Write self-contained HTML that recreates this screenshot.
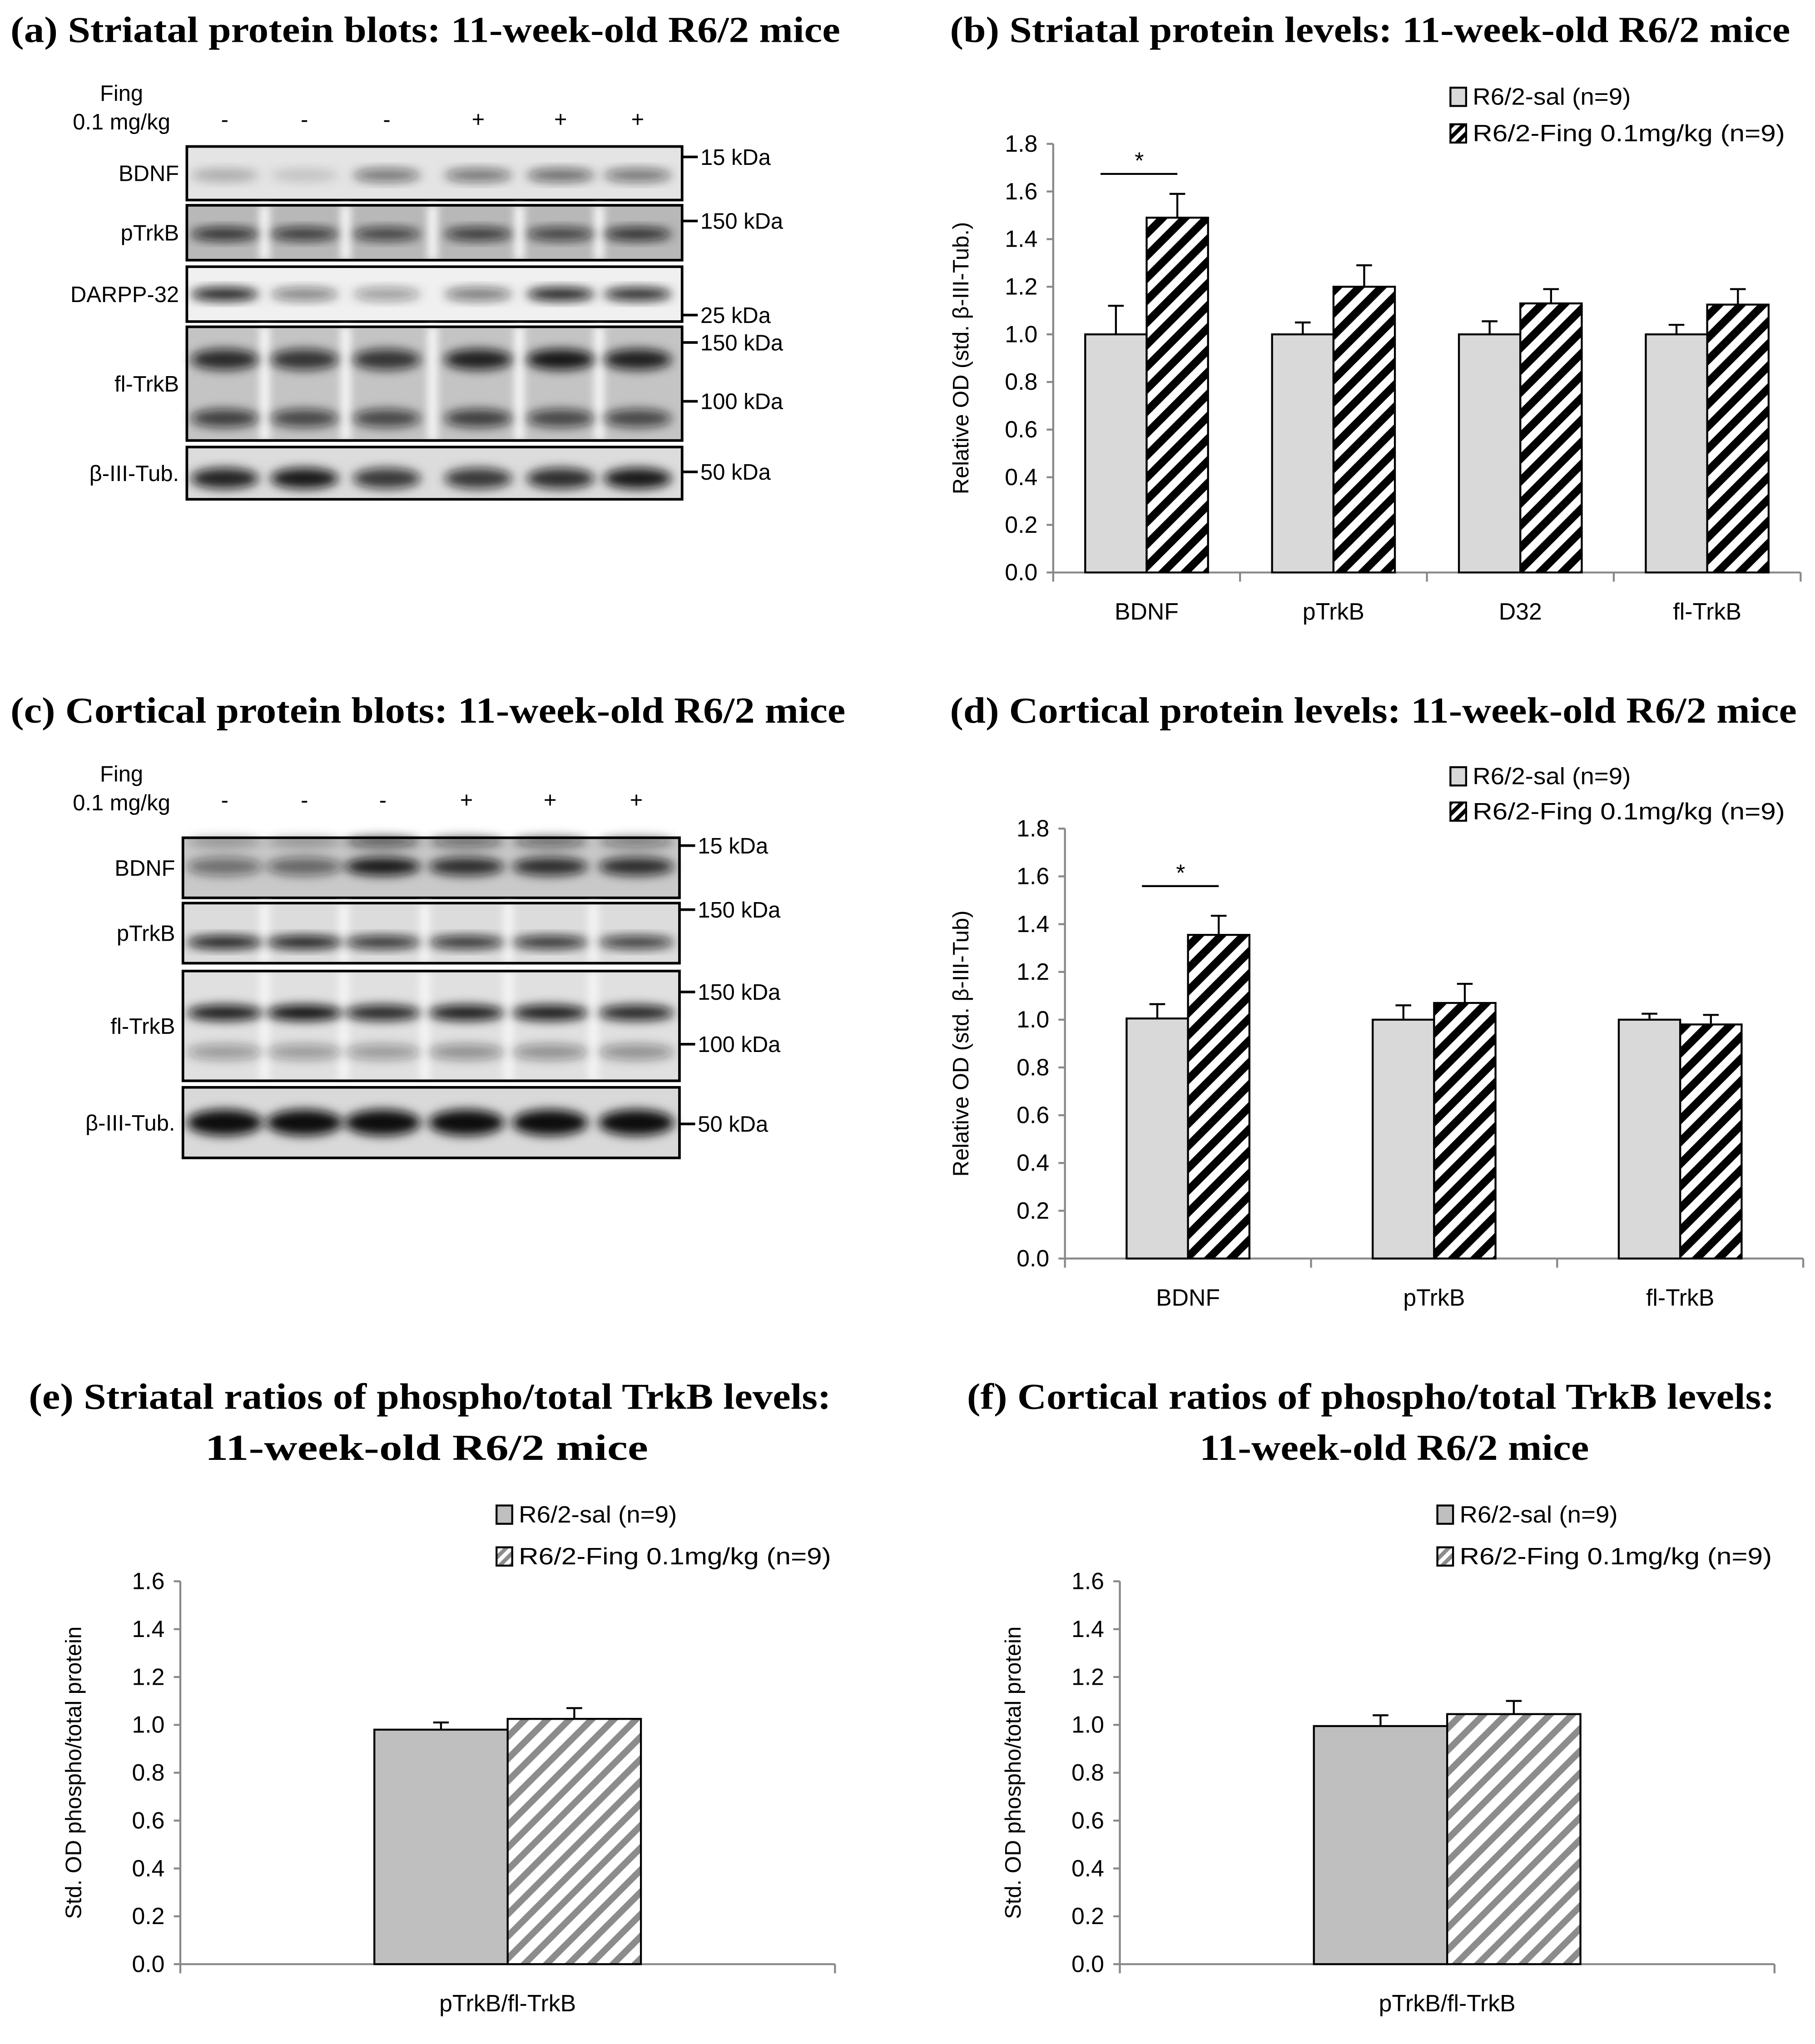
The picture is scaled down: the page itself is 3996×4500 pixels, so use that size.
<!DOCTYPE html>
<html><head><meta charset="utf-8">
<style>
html,body{margin:0;padding:0;background:#fff;}
svg{display:block;}
.t{font-family:"Liberation Serif",serif;font-weight:bold;font-size:28px;fill:#000;}
.s{font-family:"Liberation Sans",sans-serif;fill:#000;}
</style></head>
<body>
<svg id="fig" xmlns="http://www.w3.org/2000/svg" width="3996" height="4500" viewBox="0 0 1389 1564">
<defs>
<filter id="blur" x="-20%" y="-50%" width="140%" height="200%"><feGaussianBlur stdDeviation="4"/></filter>
<filter id="blur2" x="-50%" y="-10%" width="200%" height="120%"><feGaussianBlur stdDeviation="3"/></filter>
<pattern id="hatchBW" patternUnits="userSpaceOnUse" width="12" height="12" patternTransform="rotate(45)">
<rect width="12" height="12" fill="#fff"/><rect width="6" height="12" fill="#000"/></pattern>
<pattern id="hatchGray" patternUnits="userSpaceOnUse" width="12" height="12" patternTransform="rotate(45)">
<rect width="12" height="12" fill="#fff"/><rect width="5" height="12" fill="#8c8c8c"/></pattern>
<pattern id="legBW" patternUnits="userSpaceOnUse" width="6" height="6" patternTransform="rotate(45)">
<rect width="6" height="6" fill="#fff"/><rect width="3" height="6" fill="#000"/></pattern>
<pattern id="legGray" patternUnits="userSpaceOnUse" width="6" height="6" patternTransform="rotate(45)">
<rect width="6" height="6" fill="#fff"/><rect width="3" height="6" fill="#8c8c8c"/></pattern>
</defs>

<text class="t" x="8" y="32" textLength="635" lengthAdjust="spacingAndGlyphs">(a) Striatal protein blots: 11-week-old R6/2 mice</text>
<text class="t" x="727" y="32" textLength="643" lengthAdjust="spacingAndGlyphs">(b) Striatal protein levels: 11-week-old R6/2 mice</text>
<text class="t" x="8" y="553" textLength="639" lengthAdjust="spacingAndGlyphs">(c) Cortical protein blots: 11-week-old R6/2 mice</text>
<text class="t" x="727" y="553" textLength="648" lengthAdjust="spacingAndGlyphs">(d) Cortical protein levels: 11-week-old R6/2 mice</text>
<text class="t" x="22" y="1078" textLength="614" lengthAdjust="spacingAndGlyphs">(e) Striatal ratios of phospho/total TrkB levels:</text>
<text class="t" x="157" y="1117" textLength="339" lengthAdjust="spacingAndGlyphs">11-week-old R6/2 mice</text>
<text class="t" x="740" y="1078" textLength="618" lengthAdjust="spacingAndGlyphs">(f) Cortical ratios of phospho/total TrkB levels:</text>
<text class="t" x="918" y="1117" textLength="298" lengthAdjust="spacingAndGlyphs">11-week-old R6/2 mice</text>

<g id="blotA"></g>
<g id="blotC"></g>
<g id="chartB"></g>
<g id="chartD"></g>
<g id="chartE"></g>
<g id="chartF"></g>
</svg>

<script>
// ---- chart (b) data ----
const bCategories = ["BDNF", "pTrkB", "D32", "fl-TrkB"];
const bSal = [1.0, 1.0, 1.0, 1.0];
const bSalErr = [0.12, 0.05, 0.055, 0.04];
const bFing = [1.49, 1.2, 1.13, 1.125];
const bFingErr = [0.1, 0.09, 0.06, 0.065];
const bTicks = ["0.0","0.2","0.4","0.6","0.8","1.0","1.2","1.4","1.6","1.8"];
// ---- chart (d) data ----
const dCategories = ["BDNF", "pTrkB", "fl-TrkB"];
const dSal = [1.005, 1.0, 1.0];
const dSalErr = [0.06, 0.06, 0.025];
const dFing = [1.355, 1.07, 0.98];
const dFingErr = [0.08, 0.08, 0.04];
const dTicks = ["0.0","0.2","0.4","0.6","0.8","1.0","1.2","1.4","1.6","1.8"];
// ---- chart (e) data ----
const eCategories = ["pTrkB/fl-TrkB"];
const eSal = [0.98];
const eSalErr = [0.03];
const eFing = [1.025];
const eFingErr = [0.045];
const eTicks = ["0.0","0.2","0.4","0.6","0.8","1.0","1.2","1.4","1.6"];
// ---- chart (f) data ----
const fCategories = ["pTrkB/fl-TrkB"];
const fSal = [0.995];
const fSalErr = [0.045];
const fFing = [1.045];
const fFingErr = [0.055];
const fTicks = ["0.0","0.2","0.4","0.6","0.8","1.0","1.2","1.4","1.6"];

const NS = "http://www.w3.org/2000/svg";
function mk(tag, attrs, parent){
  const e = document.createElementNS(NS, tag);
  for (const k in attrs) e.setAttribute(k, attrs[k]);
  parent.appendChild(e); return e;
}

function drawChart(g, o, cats, sal, salErr, fing, fingErr, ticks){
  const yMax = parseFloat(ticks[ticks.length-1]);
  const y = v => o.y0 - (v / yMax) * (o.y0 - o.yTop);
  const gw = (o.xR - o.xL) / cats.length;
  const x = i => o.xL + gw * (i + 0.5);
  const ax = mk("line", {x1:o.xL, y1:o.yTop, x2:o.xL, y2:o.y0, stroke:"#888", "stroke-width":1.5}, g);
  
  
  ticks.forEach(t => {
    const v = parseFloat(t);
    mk("line", {x1:o.xL-5, y1:y(v), x2:o.xL, y2:y(v), stroke:"#888", "stroke-width":1.5}, g);
    const tx = mk("text", {x:o.xL-12, y:y(v)+6, "text-anchor":"end", class:"s", "font-size":18}, g);
    tx.textContent = t;
    
    
  });
  const xa = mk("line", {x1:o.xL, y1:o.y0, x2:o.xR, y2:o.y0, stroke:"#888", "stroke-width":1.5}, g);
  
  
  for (let i = 0; i <= cats.length; i++) {
    mk("line", {x1:o.xL+gw*i, y1:o.y0, x2:o.xL+gw*i, y2:o.y0+7, stroke:"#888", "stroke-width":1.5}, g);
  }
  const yl = mk("text", {x:0, y:0, "text-anchor":"middle", class:"s", "font-size":17,
    transform:`translate(${o.ylx},${(o.y0+o.yTop)/2}) rotate(-90)`}, g);
  yl.textContent = o.ylabel;
  
  
  cats.forEach((c, i) => {
    const cx = x(i);
    const r1 = mk("rect", {x:cx-o.bw, y:y(sal[i]), width:o.bw, height:o.y0-y(sal[i]), fill:o.grayFill, stroke:"#000", "stroke-width":1.5}, g);
    
    
    const r2 = mk("rect", {x:cx, y:y(fing[i]), width:o.bw, height:o.y0-y(fing[i]), fill:o.hatch, stroke:"#000", "stroke-width":1.5}, g);
    
    
    [[cx-o.bw/2, sal[i], salErr[i]], [cx+o.bw/2, fing[i], fingErr[i]]].forEach(e => {
      mk("line", {x1:e[0], y1:y(e[1]), x2:e[0], y2:y(e[1]+e[2]), stroke:"#000", "stroke-width":1.5}, g);
      mk("line", {x1:e[0]-6, y1:y(e[1]+e[2]), x2:e[0]+6, y2:y(e[1]+e[2]), stroke:"#000", "stroke-width":1.5}, g);
    });
    const cl = mk("text", {x:cx, y:o.y0+36, "text-anchor":"middle", class:"s", "font-size":18}, g);
    cl.textContent = c;
    
    
  });
  [[o.legY1, o.grayFill, "R6/2-sal (n=9)", 121], [o.legY2, o.legHatch, "R6/2-Fing 0.1mg/kg (n=9)", 239]].forEach((L, k) => {
    const sq = mk("rect", {x:o.legX, y:L[0]-7, width:12, height:14, fill:L[1], stroke:"#000", "stroke-width":1.5}, g);
    
    
    const lt = mk("text", {x:o.legX+17, y:L[0]+6, class:"s", "font-size":18, textLength:L[3], lengthAdjust:"spacingAndGlyphs"}, g);
    lt.textContent = L[2];
    
    
  });
  if (o.sig) {
    const l = mk("line", {x1:x(0)-o.bw*0.75, y1:o.sigY, x2:x(0)+o.bw*0.5, y2:o.sigY, stroke:"#000", "stroke-width":1.5}, g);
    
    
    const st = mk("text", {x:x(0)-o.bw*0.12, y:o.sigY-4, "text-anchor":"middle", class:"s", "font-size":18}, g);
    st.textContent = "*";
    
    
  }
}

drawChart(document.getElementById("chartB"),
  {xL:806, xR:1378, y0:438, yTop:110, bw:47, ylx:741, ylabel:"Relative OD (std. β-III-Tub.)",
   grayFill:"#d9d9d9", hatch:"url(#hatchBW)", legHatch:"url(#legBW)", legX:1110, legY1:74, legY2:102, sig:1, sigY:133},
  bCategories, bSal, bSalErr, bFing, bFingErr, bTicks);
drawChart(document.getElementById("chartD"),
  {xL:815, xR:1380, y0:963, yTop:634, bw:47, ylx:741, ylabel:"Relative OD (std. β-III-Tub)",
   grayFill:"#d9d9d9", hatch:"url(#hatchBW)", legHatch:"url(#legBW)", legX:1110, legY1:594, legY2:621, sig:1, sigY:678},
  dCategories, dSal, dSalErr, dFing, dFingErr, dTicks);
drawChart(document.getElementById("chartE"),
  {xL:138, xR:639, y0:1503, yTop:1210, bw:102, ylx:62, ylabel:"Std. OD phospho/total protein",
   grayFill:"#bfbfbf", hatch:"url(#hatchGray)", legHatch:"url(#legGray)", legX:380, legY1:1159, legY2:1191},
  eCategories, eSal, eSalErr, eFing, eFingErr, eTicks);
drawChart(document.getElementById("chartF"),
  {xL:857, xR:1358, y0:1503, yTop:1210, bw:102, ylx:781, ylabel:"Std. OD phospho/total protein",
   grayFill:"#bfbfbf", hatch:"url(#hatchGray)", legHatch:"url(#legGray)", legX:1100, legY1:1159, legY2:1191},
  fCategories, fSal, fSalErr, fFing, fFingErr, fTicks);

// ---- blots ----
function drawBlot(g, cfg){
  const lbl = (txt, xx, yy, anchor) => {
    const t = mk("text", {x:xx, y:yy, "text-anchor":anchor||"middle", class:"s", "font-size":17}, g);
    t.textContent = txt; return t;
  };
  const f1 = lbl("Fing", cfg.fingX, cfg.fingY);
  
  
  const f2 = lbl("0.1 mg/kg", cfg.fingX, cfg.fingY+22);
  
  
  cfg.lanes.forEach((lx, i) => {
    const s = lbl(i < 3 ? "-" : "+", lx, cfg.fingY+20);
    
    
  });
  cfg.rows.forEach(r => {
    const rg = mk("g", {}, g);
    
    
    mk("rect", {x:cfg.x0, y:r.y1, width:cfg.x1-cfg.x0, height:r.y2-r.y1, fill:r.bg}, rg);
    if (r.gaps) {
      const gg = mk("g", {filter:"url(#blur2)"}, rg);
      for (let i = 0; i < cfg.lanes.length - 1; i++) {
        const gx = (cfg.lanes[i] + cfg.lanes[i+1]) / 2;
        mk("rect", {x:gx-4, y:r.y1, width:8, height:r.y2-r.y1, fill:"#f4f4f4"}, gg);
      }
    }
    const bands = mk("g", {filter:"url(#blur)"}, rg);
    r.bands.forEach(b => {
      cfg.lanes.forEach((lx, i) => {
        mk("ellipse", {cx:lx, cy:r.y1 + b.dy, rx:cfg.lw/2, ry:b.h/2, fill:"#111", opacity:b.int[i]}, bands);
      });
    });
    mk("rect", {x:cfg.x0, y:r.y1, width:cfg.x1-cfg.x0, height:r.y2-r.y1, fill:"none", stroke:"#000", "stroke-width":2}, rg);
    const nl = lbl(r.label, cfg.x0-6, (r.y1+r.y2)/2+6, "end");
    
    
  });
  cfg.markers.forEach(m => {
    mk("line", {x1:cfg.x1, y1:m[1], x2:cfg.x1+12, y2:m[1], stroke:"#000", "stroke-width":2}, g);
    const ml = lbl(m[0], cfg.x1+14, m[1]+6, "start");
    
    
  });
}

drawBlot(document.getElementById("blotA"), {
  x0:143, x1:522, fingX:93, fingY:77, lw:52,
  lanes:[172,233,296,366,429,488],
  rows:[
    {name:"bdnf", label:"BDNF", y1:112, y2:153, bg:"#e4e4e4", bands:[{dy:22, h:10, int:[0.25,0.15,0.55,0.55,0.6,0.55]}]},
    {name:"ptrkb", label:"pTrkB", y1:157, y2:199, bg:"#b8b8b8", gaps:true, bands:[{dy:22, h:10, int:[0.85,0.8,0.75,0.8,0.75,0.85]}]},
    {name:"darpp32", label:"DARPP-32", y1:204, y2:246, bg:"#f0f0f0", bands:[{dy:21, h:10, int:[0.95,0.5,0.4,0.55,0.95,0.9]}]},
    {name:"fltrkb", label:"fl-TrkB", y1:250, y2:337, bg:"#c4c4c4", gaps:true, bands:[{dy:25, h:16, int:[0.85,0.8,0.8,0.9,0.95,0.9]},{dy:70, h:14, int:[0.75,0.7,0.7,0.75,0.7,0.7]}]},
    {name:"tubulin", label:"β-III-Tub.", y1:342, y2:382, bg:"#dcdcdc", bands:[{dy:24, h:16, int:[0.9,0.95,0.8,0.8,0.85,0.95]}]}
  ],
  markers:[["15 kDa",120],["150 kDa",169],["25 kDa",241],["150 kDa",262],["100 kDa",307],["50 kDa",361]]
});
drawBlot(document.getElementById("blotC"), {
  x0:140, x1:520, fingX:93, fingY:598, lw:58,
  lanes:[172,233,293,357,421,487],
  rows:[
    {name:"bdnf", label:"BDNF", y1:641, y2:687, bg:"#c9c9c9", bands:[{dy:22, h:14, int:[0.5,0.55,0.95,0.85,0.85,0.85]},{dy:3,h:8,int:[0.3,0.3,0.7,0.6,0.6,0.5]}]},
    {name:"ptrkb", label:"pTrkB", y1:691, y2:737, bg:"#dcdcdc", gaps:true, bands:[{dy:30, h:10, int:[0.95,0.95,0.85,0.85,0.85,0.8]}]},
    {name:"fltrkb", label:"fl-TrkB", y1:743, y2:827, bg:"#e0e0e0", gaps:true, bands:[{dy:32, h:12, int:[0.95,1,0.9,0.95,0.95,0.9]},{dy:62, h:12, int:[0.35,0.35,0.35,0.4,0.4,0.4]}]},
    {name:"tubulin", label:"β-III-Tub.", y1:832, y2:886, bg:"#d9d9d9", bands:[{dy:27, h:20, int:[1,1,1,1,1,1]}]}
  ],
  markers:[["15 kDa",647],["150 kDa",696],["150 kDa",759],["100 kDa",799],["50 kDa",860]]
});
</script>
</body></html>
